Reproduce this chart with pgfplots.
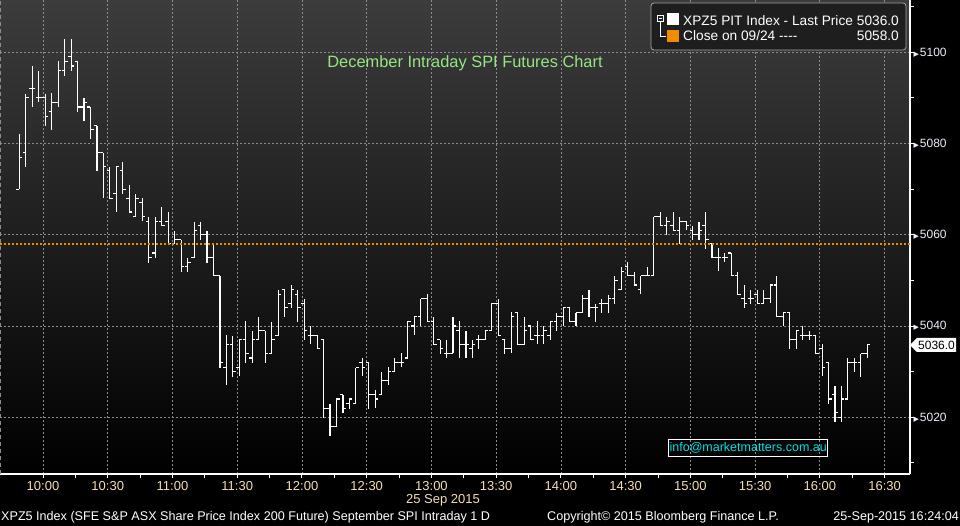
\documentclass[border=0pt]{standalone}
\usepackage{fontspec}
\setmainfont{Liberation Sans}
\newfontfamily\symfont{DejaVu Sans}
\usepackage{pgfplots}
\pgfplotsset{compat=1.18}
\usepackage{pgfplotstable}
\usetikzlibrary{shapes.symbols}

\definecolor{bbtop}{RGB}{60,60,60}
\definecolor{bbgrid}{RGB}{140,140,140}
\definecolor{bbxlab}{RGB}{245,222,180}
\definecolor{bbylab}{RGB}{236,238,250}
\definecolor{bbtitle}{RGB}{150,230,130}
\definecolor{bborange}{RGB}{240,140,0}
\definecolor{bbcyan}{RGB}{0,225,230}
\definecolor{bbbox}{RGB}{30,30,30}

\newcommand{\fs}[1]{\fontsize{#1}{#1}\selectfont}
\newcommand{\ytri}{{\symfont\fs{7}▶}\hspace{1pt}}

% 3 minute bars, t = minutes after midnight
\pgfplotstableread{
t   O    H    L    C
589 5070 5082 5070 5077
592 5078 5091 5075 5090
595 5092 5097 5088 5092
598 5090 5096 5089 5090
601 5090 5091 5084 5086
604 5087 5091 5083 5089
607 5089 5098 5088 5096
610 5096 5103 5095 5098
613 5099 5103 5096 5097
616 5098 5098 5087 5088
619 5088 5090 5085 5089
622 5088 5088 5081 5083
625 5084 5084 5074 5078
628 5078 5078 5068 5075
631 5074 5075 5068 5068
634 5069 5075 5065 5075
637 5074 5076 5069 5070
640 5068 5071 5065 5065
643 5064 5069 5064 5068
646 5067 5068 5063 5064
649 5063 5064 5054 5055
652 5056 5064 5055 5063
655 5063 5066 5062 5062
658 5063 5065 5058 5058
661 5058 5061 5058 5059
664 5059 5059 5052 5053
667 5053 5055 5052 5054
670 5055 5063 5055 5061
673 5062 5063 5059 5060
676 5060 5061 5054 5055
679 5055 5058 5051 5051
682 5051 5051 5031 5032
685 5031 5038 5027 5036
688 5036 5038 5029 5030
691 5031 5037 5029 5037
694 5037 5041 5032 5034
697 5033 5039 5032 5037
700 5037 5042 5037 5039
703 5039 5039 5032 5034
706 5034 5041 5034 5037
709 5038 5048 5038 5047
712 5048 5048 5042 5044
715 5045 5049 5044 5048
718 5047 5048 5041 5044
721 5045 5046 5037 5039
724 5038 5040 5036 5038
727 5038 5038 5035 5035
730 5037 5037 5020 5022
733 5022 5023 5016 5018
736 5018 5024 5018 5024
739 5025 5025 5021 5022
742 5023 5024 5022 5024
745 5023 5031 5023 5031
748 5032 5033 5029 5031
751 5032 5032 5022 5025
754 5025 5026 5022 5024
757 5025 5030 5025 5028
760 5028 5031 5027 5030
763 5030 5033 5030 5032
766 5032 5034 5031 5032
769 5033 5041 5033 5041
772 5040 5042 5038 5042
775 5042 5046 5040 5046
778 5046 5047 5041 5041
781 5041 5042 5036 5036
784 5037 5037 5034 5035
787 5034 5037 5033 5034
790 5034 5042 5034 5040
793 5039 5041 5033 5036
796 5036 5039 5033 5036
799 5035 5037 5033 5036
802 5037 5038 5035 5037
805 5037 5039 5037 5039
808 5039 5045 5039 5045
811 5045 5046 5038 5038
814 5037 5037 5034 5035
817 5035 5043 5034 5042
820 5043 5043 5036 5036
823 5036 5042 5036 5039
826 5040 5040 5037 5037
829 5038 5041 5036 5038
832 5038 5040 5036 5039
835 5038 5041 5037 5041
838 5041 5043 5039 5042
841 5042 5044 5040 5044
844 5044 5044 5041 5041
847 5041 5043 5040 5043
850 5043 5047 5043 5046
853 5046 5048 5042 5044
856 5044 5045 5041 5044
859 5045 5046 5043 5045
862 5045 5047 5043 5046
865 5046 5051 5045 5050
868 5048 5053 5048 5052
871 5053 5054 5051 5051
874 5051 5052 5049 5049
877 5048 5051 5047 5051
880 5051 5053 5051 5051
883 5051 5064 5051 5064
886 5064 5065 5062 5062
889 5062 5064 5060 5063
892 5062 5065 5061 5061
895 5061 5064 5058 5063
898 5063 5063 5061 5062
901 5061 5062 5059 5060
904 5060 5063 5059 5061
907 5062 5065 5057 5059
910 5058 5058 5055 5055
913 5055 5057 5052 5055
916 5055 5056 5054 5055
919 5056 5056 5051 5051
922 5051 5052 5047 5047
925 5046 5049 5044 5045
928 5046 5048 5045 5046
931 5047 5048 5045 5045
934 5045 5048 5045 5046
937 5046 5049 5045 5049
940 5049 5051 5042 5042
943 5042 5043 5040 5043
946 5043 5043 5035 5037
949 5037 5039 5035 5039
952 5038 5040 5037 5038
955 5038 5039 5037 5038
958 5038 5038 5034 5034
961 5035 5036 5029 5031
964 5032 5032 5023 5024
967 5025 5027 5019 5021
970 5020 5027 5019 5024
973 5024 5033 5024 5032
976 5032 5033 5030 5032
979 5032 5034 5029 5034
982 5034 5036 5033 5036
}\spi

\begin{document}
\begin{tikzpicture}
\fill[black] (0,0) rectangle (960pt,526pt);
\begin{axis}[
  at={(0pt,52pt)}, anchor=south west,
  scale only axis, width=910pt, height=474pt,
  xmin=580.07, xmax=1001.76, ymin=5007.57, ymax=5111.46,
  axis x line*=bottom, axis y line*=right,
  axis line style={white, line width=1.2pt},
  axis background/.style={top color=bbtop, bottom color=black},
  xtick={600,630,...,990},
  xticklabels={10:00,10:30,11:00,11:30,12:00,12:30,13:00,13:30,14:00,14:30,15:00,15:30,16:00,16:30},
  minor xtick={615,645,...,975},
  ytick={5020,5040,...,5100},
  yticklabels={\ytri5020,\ytri5040,\ytri5060,\ytri5080,\ytri5100},
  minor ytick={5010,5030,...,5110},
  tick align=outside,
  major tick length=4pt, minor tick length=4pt,
  tick style={white, line width=1pt},
  xmajorgrids, ymajorgrids,
  major grid style={bbgrid, line width=0.8pt, dash pattern=on 2pt off 2pt},
  xticklabel style={bbxlab, font=\fs{13}},
  yticklabel style={bbylab, font=\fs{12}, xshift=-4pt},
  every axis plot/.append style={mark=none},
]
% high-low
\addplot[draw=none,
  error bars/.cd, y dir=both, y explicit, error mark=none,
  error bar style={draw=white, line width=1.1pt, solid}]
  table[x=t, y expr={(\thisrow{H}+\thisrow{L})/2}, y error expr={(\thisrow{H}-\thisrow{L})/2}] {\spi};
% open
\addplot[draw=none,
  error bars/.cd, x dir=both, x fixed=0.7, error mark=none,
  error bar style={draw=white, line width=1.1pt, solid}]
  table[x expr={\thisrow{t}-0.7}, y=O] {\spi};
% close
\addplot[draw=none,
  error bars/.cd, x dir=both, x fixed=0.7, error mark=none,
  error bar style={draw=white, line width=1.1pt, solid}]
  table[x expr={\thisrow{t}+0.7}, y=C] {\spi};
% previous close
\addplot[bborange, line width=1.7pt, dash pattern=on 2.3pt off 1.7pt]
  coordinates {(580.07,5058) (1001.76,5058)};
\end{axis}

\begin{scope}[x=1pt, y=1pt]
\draw[bbgrid, line width=1pt, dash pattern=on 4pt off 3pt] (0.5,52) -- (0.5,526);
\node[bbtitle, font=\fs{16.4}] at (465,463) {December Intraday SPI Futures Chart};
% legend
\draw[bbgrid!80, fill=bbbox, rounded corners=3pt, line width=0.8pt] (651,476) rectangle (906,523);
\draw[white, line width=0.7pt] (657,505) rectangle (663,511);
\draw[white, line width=0.7pt] (658.5,508) -- (661.5,508);
\draw[white, line width=0.7pt] (660,505) -- (660,490) -- (666,490);
\fill[white] (667,501) rectangle (679,513);
\fill[bborange] (667,484) rectangle (679,496);
\node[anchor=west, white, font=\fs{13.7}, inner sep=0pt] at (683,505.5) {XPZ5 PIT Index - Last Price};
\node[anchor=east, white, font=\fs{13.7}, inner sep=0pt] at (899,505.5) {5036.0};
\node[anchor=west, white, font=\fs{13.7}, inner sep=0pt] at (683,490.5) {Close on 09/24 -{}-{}-{}-};
\node[anchor=east, white, font=\fs{13.7}, inner sep=0pt] at (899,490.5) {5058.0};
% last price marker
\node[signal, signal to=west, fill=white, text=black, font=\fs{12}, inner sep=1.2pt,
  minimum height=14pt] at (936.5,181) {5036.0};
% watermark box
\node[draw=white, line width=0.8pt, text=bbcyan, font=\fs{12.5}, inner sep=0pt,
  minimum width=159pt, minimum height=17.7pt] at (748.2,78.2) {info@marketmatters.com.au};
% footer
\node[bbxlab, font=\fs{13}] at (443,25.3) {25 Sep 2015};
\node[anchor=west, white, font=\fs{12.6}, inner sep=0pt] at (1,8.7) {XPZ5 Index (SFE S\&P ASX Share Price Index 200 Future) September SPI Intraday 1 D};
\node[anchor=west, white, font=\fs{12.6}, inner sep=0pt] at (547,8.7) {Copyright© 2015 Bloomberg Finance L.P.};
\node[anchor=east, white, font=\fs{12.6}, inner sep=0pt] at (959,8.7) {25-Sep-2015 16:24:04};
\end{scope}
\pgfresetboundingbox
\useasboundingbox (0,0) rectangle (960pt,526pt);
\end{tikzpicture}
\end{document}
